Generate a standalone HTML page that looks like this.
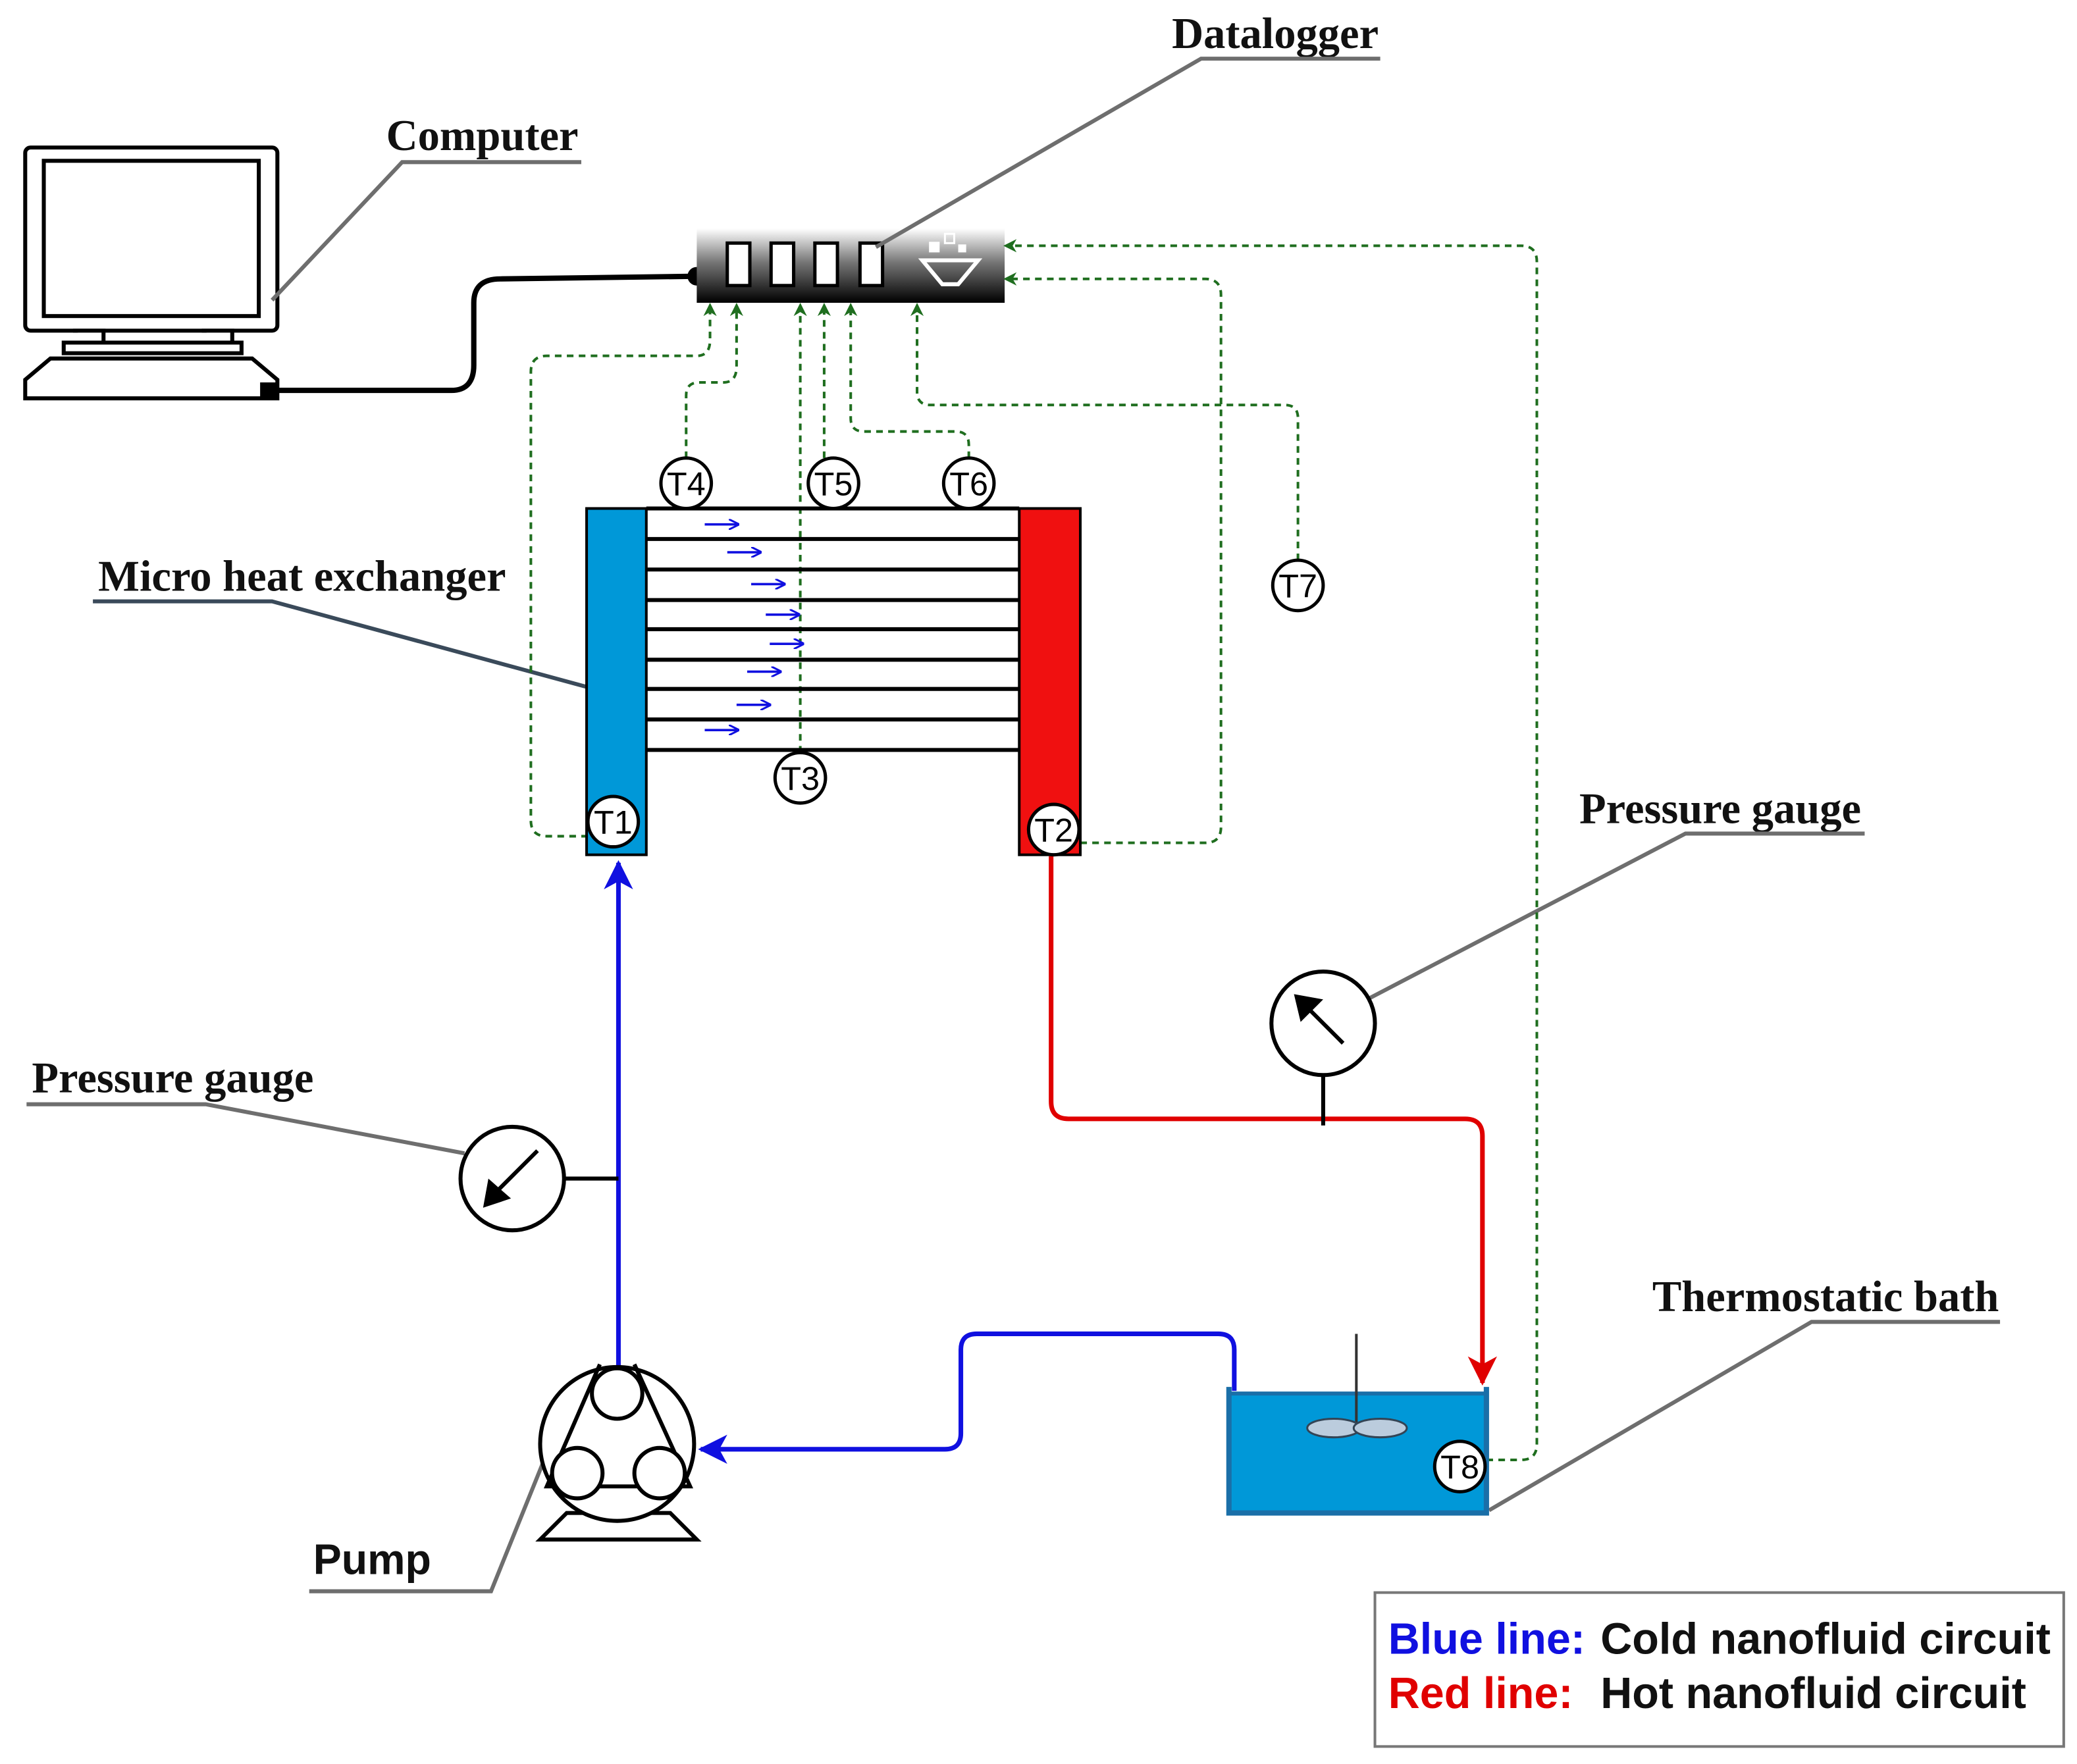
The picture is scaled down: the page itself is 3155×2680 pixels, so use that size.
<!DOCTYPE html>
<html><head><meta charset="utf-8"><style>
html,body{margin:0;padding:0;background:#fff;}
svg{display:block;}
.serif{font-family:"Liberation Serif",serif;font-weight:bold;font-size:33px;fill:#111;}
.sans{font-family:"Liberation Sans",sans-serif;font-weight:bold;}
.tl{font-family:"Liberation Sans",sans-serif;font-size:25px;fill:#000;text-anchor:middle;}
.dash{fill:none;stroke:#1f6e1f;stroke-width:2;stroke-dasharray:5,4;}
.lead{fill:none;stroke:#6e6e6e;stroke-width:3;}
</style></head><body>
<svg width="3155" height="2680" viewBox="0 0 1565 1329" xmlns="http://www.w3.org/2000/svg">
<defs>
<linearGradient id="dl" x1="0" y1="0" x2="0" y2="1"><stop offset="0" stop-color="#fff"/><stop offset="0.45" stop-color="#777"/><stop offset="1" stop-color="#000"/></linearGradient>
<marker id="ga" markerWidth="10" markerHeight="10" refX="8" refY="5" orient="auto" markerUnits="userSpaceOnUse"><path d="M0,0 L10,5 L0,10 L3,5 Z" fill="#1f6e1f"/></marker>
<marker id="ba" markerWidth="22" markerHeight="22" refX="20" refY="11" orient="auto" markerUnits="userSpaceOnUse"><path d="M0,0 L22,11 L0,22 L6,11 Z" fill="#1010e0"/></marker>
<marker id="ra" markerWidth="22" markerHeight="22" refX="20" refY="11" orient="auto" markerUnits="userSpaceOnUse"><path d="M0,0 L22,11 L0,22 L6,11 Z" fill="#e00000"/></marker>
<marker id="sa" markerWidth="8" markerHeight="8" refX="7" refY="4" orient="auto" markerUnits="userSpaceOnUse"><path d="M0,0 L8,4 L0,8" fill="none" stroke="#1010e0" stroke-width="1.5"/></marker>
</defs>

<rect x="19" y="111" width="190" height="138" rx="4" fill="#fff" stroke="#000" stroke-width="3"/>
<rect x="33" y="121" width="162" height="117" fill="#fff" stroke="#000" stroke-width="3"/>
<path d="M48,258 L182,258 L182,266 L48,266 Z M55,249 L78,249 L78,258 M152,249 L175,249 L175,258" fill="#fff" stroke="#000" stroke-width="3"/>
<path d="M19,300 L209,300 L209,286 L190,270 L38,270 L19,286 Z" fill="#fff" stroke="#000" stroke-width="3"/>
<rect x="196" y="288" width="14" height="12" fill="#000"/>
<path d="M205,294 L340,294 Q357,294 357,275 L357,228 Q357,210 377,210 L525,208" fill="none" stroke="#000" stroke-width="4"/>
<circle cx="525" cy="208" r="7" fill="#000"/>

<rect x="525" y="172" width="232" height="56" fill="url(#dl)"/>
<g fill="#fff" stroke="#000" stroke-width="2.5">
<rect x="548" y="183" width="17" height="32"/><rect x="581" y="183" width="17" height="32"/>
<rect x="614" y="183" width="17" height="32"/><rect x="648" y="183" width="17" height="32"/>
</g>
<path d="M695,196 L737,196 L722,214 L710,214 Z" fill="none" stroke="#fff" stroke-width="3"/>
<rect x="700" y="182" width="8" height="8" fill="#fff"/><rect x="712" y="176" width="7" height="7" fill="none" stroke="#fff" stroke-width="1.5"/><rect x="722" y="184" width="6" height="6" fill="#fff"/>

<text class="serif" x="883" y="36">Datalogger</text>
<path class="lead" d="M1040,44 L905,44 L660,186"/>
<text class="serif" x="291" y="113">Computer</text>
<path class="lead" d="M438,122 L303,122 L205,226"/>
<text class="serif" x="74" y="445">Micro heat exchanger</text>
<path d="M70,453 L205,453 L444,518" fill="none" stroke="#3a4a5a" stroke-width="3"/>
<text class="serif" x="24" y="823">Pressure gauge</text>
<path class="lead" d="M20,832 L155,832 L350,869"/>
<text class="serif" x="1190" y="620">Pressure gauge</text>
<path class="lead" d="M1405,628 L1270,628 L1032,752"/>
<text class="serif" x="1245" y="988">Thermostatic bath</text>
<path class="lead" d="M1507,996 L1365,996 L1122,1138"/>
<text class="sans" x="236" y="1186" font-size="32" fill="#111">Pump</text>
<path class="lead" d="M233,1199 L370,1199 L410,1100"/>

<path class="dash" marker-end="url(#ga)" d="M443,630 L412,630 Q400,630 400,618 L400,280 Q400,268 412,268 L525,268 Q535,268 535,256 L535,230"/>
<path class="dash" marker-end="url(#ga)" d="M517,345 L517,298 Q517,288 527,288 L545,288 Q555,288 555,276 L555,230"/>
<path class="dash" marker-end="url(#ga)" d="M603,567 L603,230"/>
<path class="dash" marker-end="url(#ga)" d="M621,345 L621,230"/>
<path class="dash" marker-end="url(#ga)" d="M730,345 L730,335 Q730,325 720,325 L651,325 Q641,325 641,315 L641,230"/>
<path class="dash" marker-end="url(#ga)" d="M978,422 L978,315 Q978,305 968,305 L701,305 Q691,305 691,295 L691,230"/>
<path class="dash" marker-end="url(#ga)" d="M814,635 L908,635 Q920,635 920,623 L920,222 Q920,210 908,210 L758,210"/>
<path class="dash" marker-end="url(#ga)" d="M1120,1100 L1146,1100 Q1158,1100 1158,1088 L1158,197 Q1158,185 1146,185 L758,185"/>

<g stroke="#000" stroke-width="3">
<line x1="487" y1="383" x2="768" y2="383"/><line x1="487" y1="406" x2="768" y2="406"/>
<line x1="487" y1="429" x2="768" y2="429"/><line x1="487" y1="452" x2="768" y2="452"/>
<line x1="487" y1="474" x2="768" y2="474"/><line x1="487" y1="497" x2="768" y2="497"/>
<line x1="487" y1="519" x2="768" y2="519"/><line x1="487" y1="542" x2="768" y2="542"/>
<line x1="487" y1="565" x2="768" y2="565"/>
</g>
<rect x="442" y="383" width="45" height="261" fill="#0098d8" stroke="#000" stroke-width="2"/>
<rect x="768" y="383" width="46" height="261" fill="#f01010" stroke="#000" stroke-width="2"/>
<g stroke="#1010e0" stroke-width="1.8" marker-end="url(#sa)">
<line x1="531" y1="395" x2="556" y2="395"/><line x1="548" y1="416" x2="573" y2="416"/>
<line x1="566" y1="440" x2="591" y2="440"/><line x1="577" y1="463" x2="602" y2="463"/>
<line x1="580" y1="485" x2="605" y2="485"/><line x1="563" y1="506" x2="588" y2="506"/>
<line x1="555" y1="531" x2="580" y2="531"/><line x1="531" y1="550" x2="556" y2="550"/>
</g>

<path d="M466,1030 L466,650" fill="none" stroke="#1010e0" stroke-width="3.5" marker-end="url(#ba)"/>
<line x1="425" y1="888" x2="466" y2="888" stroke="#000" stroke-width="3"/>
<circle cx="386" cy="888" r="39" fill="#fff" stroke="#000" stroke-width="3"/>
<line x1="405" y1="867" x2="372" y2="900" stroke="#000" stroke-width="3"/>
<path d="M364,910 L368,888 L385,903 Z" fill="#000"/>
<path d="M930,1048 L930,1017 Q930,1005 918,1005 L736,1005 Q724,1005 724,1017 L724,1080 Q724,1092 712,1092 L528,1092" fill="none" stroke="#1010e0" stroke-width="3.5" marker-end="url(#ba)"/>

<path d="M792,645 L792,830 Q792,843 805,843 L1104,843 Q1117,843 1117,856 L1117,1042" fill="none" stroke="#e00000" stroke-width="3.5" marker-end="url(#ra)"/>
<line x1="997" y1="810" x2="997" y2="848" stroke="#000" stroke-width="3"/>
<circle cx="997" cy="771" r="39" fill="#fff" stroke="#000" stroke-width="3"/>
<line x1="1012" y1="786" x2="983" y2="757" stroke="#000" stroke-width="3"/>
<path d="M975,749 L997,753 L980,770 Z" fill="#000"/>

<rect x="926" y="1050" width="194" height="90" fill="#0098d8" stroke="#1a6fa8" stroke-width="3"/>
<path d="M926,1045 L926,1140 L1120,1140 L1120,1045" fill="none" stroke="#1a6fa8" stroke-width="4"/>
<line x1="1022" y1="1005" x2="1022" y2="1076" stroke="#333" stroke-width="2"/>
<ellipse cx="1005" cy="1076" rx="20" ry="7" fill="#bcd" stroke="#345" stroke-width="1.5"/>
<ellipse cx="1040" cy="1076" rx="20" ry="7" fill="#bcd" stroke="#345" stroke-width="1.5"/>

<path d="M407,1160 L525,1160 L505,1140 L427,1140 Z" fill="#fff" stroke="#000" stroke-width="3"/>
<circle cx="465" cy="1088" r="58" fill="#fff" stroke="#000" stroke-width="3"/>
<path d="M452,1028 L412,1120 L520,1120 L478,1028" fill="none" stroke="#000" stroke-width="3"/>
<circle cx="465" cy="1050" r="19" fill="#fff" stroke="#000" stroke-width="3"/>
<circle cx="435" cy="1110" r="19" fill="#fff" stroke="#000" stroke-width="3"/>
<circle cx="497" cy="1110" r="19" fill="#fff" stroke="#000" stroke-width="3"/>

<g fill="#fff" stroke="#000" stroke-width="2.5">
<circle cx="517" cy="364" r="19"/><circle cx="628" cy="364" r="19"/><circle cx="730" cy="364" r="19"/>
<circle cx="978" cy="441" r="19"/><circle cx="603" cy="586" r="19"/><circle cx="462" cy="619" r="19"/>
<circle cx="794" cy="625" r="19"/><circle cx="1100" cy="1105" r="19"/>
</g>
<g class="tl">
<text x="517" y="373">T4</text><text x="628" y="373">T5</text><text x="730" y="373">T6</text>
<text x="978" y="450">T7</text><text x="603" y="595">T3</text><text x="462" y="628">T1</text>
<text x="794" y="634">T2</text><text x="1100" y="1114">T8</text>
</g>

<rect x="1036" y="1200" width="519" height="116" fill="#fff" stroke="#777" stroke-width="2"/>
<text class="sans" x="1046" y="1246" font-size="33"><tspan fill="#1010e0">Blue line:</tspan><tspan fill="#111" x="1206">Cold nanofluid circuit</tspan></text>
<text class="sans" x="1046" y="1287" font-size="33"><tspan fill="#e00000">Red line:</tspan><tspan fill="#111" x="1206">Hot nanofluid circuit</tspan></text>
</svg>
</body></html>
